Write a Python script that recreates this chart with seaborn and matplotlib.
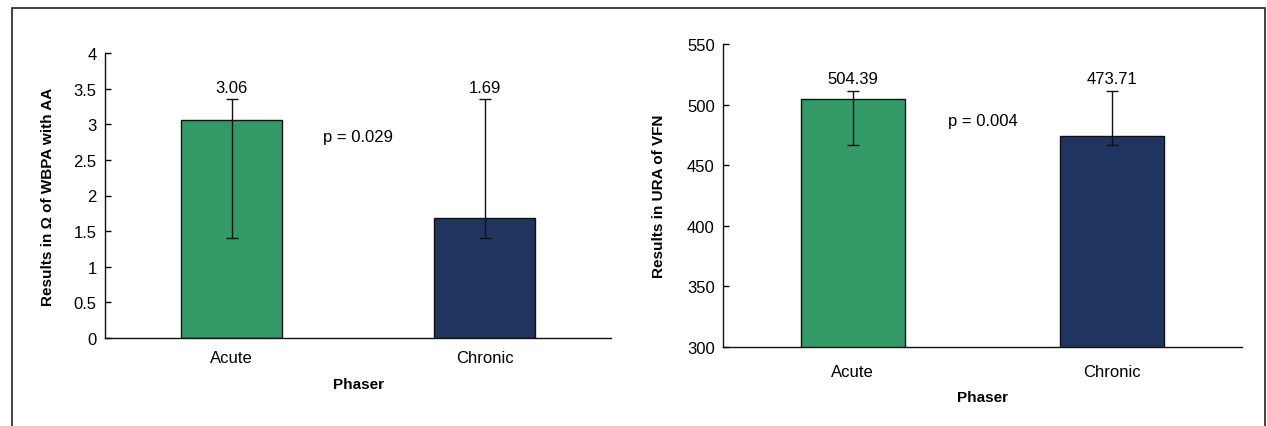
import seaborn as sns
import matplotlib.pyplot as plt
import matplotlib.patches as mpatches
import pandas as pd

phases = ["Acute", "Chronic"]
colors = ["#339966", "#1F3560"]

# left panel: WBPA with AA (ohm)
wbpa_mean = [3.06, 1.69]
wbpa_err_low = [1.41, 1.41]
wbpa_err_high = [3.35, 3.35]
wbpa_p = "p = 0.029"

# right panel: URA of VFN
vfn_mean = [504.39, 473.71]
vfn_err_low = [467, 467]
vfn_err_high = [511.5, 511.5]
vfn_p = "p = 0.004"

sns.set_style("white")
plt.rcParams["font.family"] = ["Liberation Sans", "DejaVu Sans"]
plt.rcParams["text.color"] = "black"
plt.rcParams["xtick.color"] = "black"
plt.rcParams["ytick.color"] = "black"
plt.rcParams["axes.labelcolor"] = "black"

fig = plt.figure(figsize=(12.67, 4.27), dpi=100)
ax1 = fig.add_axes([105 / 1267, 1 - 339 / 427, 506 / 1267, 285 / 427])
ax2 = fig.add_axes([723 / 1267, 1 - 348 / 427, 519 / 1267, 303 / 427])

# outer frame
fig.patches.append(mpatches.Rectangle((11.5 / 1267, -0.1), 1253 / 1267, 1.1 - 9 / 427,
                                      transform=fig.transFigure, fill=False,
                                      edgecolor="#222222", linewidth=1.2))


def panel(ax, means, lo, hi, ptxt, ylim, yticks, ylabel, ppos, lab_off, xpad, ylpad):
    df = pd.DataFrame({"Phase": phases, "Value": means})
    sns.barplot(data=df, x="Phase", y="Value", hue="Phase", palette=colors,
                saturation=1, width=0.4, edgecolor="#111111", linewidth=1,
                legend=False, ax=ax)
    err = [[m - l for m, l in zip(means, lo)], [h - m for m, h in zip(means, hi)]]
    ax.errorbar(range(len(phases)), means, yerr=err, fmt="none", ecolor="#111111",
                elinewidth=1, capsize=4, capthick=1)
    for i, (m, h) in enumerate(zip(means, hi)):
        ax.text(i, h + lab_off, f"{m:.2f}", ha="center", va="bottom", fontsize=12)
    ax.text(ppos[0], ppos[1], ptxt, ha="center", va="center", fontsize=12)
    ax.set_xlim(-0.5, 1.5)
    ax.set_ylim(*ylim)
    ax.set_yticks(yticks)
    ax.set_yticklabels([f"{t:g}" for t in yticks], fontsize=12)
    ax.tick_params(axis="y", direction="in", length=4, width=1, pad=6, left=True)
    ax.tick_params(axis="x", length=0, pad=xpad, labelsize=12)
    sns.despine(ax=ax)
    for s in ["left", "bottom"]:
        ax.spines[s].set_color("#111111")
        ax.spines[s].set_linewidth(1)
    ax.set_xlabel("Phaser", fontsize=11, fontweight="bold", labelpad=8)
    ax.set_ylabel(ylabel, fontsize=11, fontweight="bold", labelpad=ylpad)


panel(ax1, wbpa_mean, wbpa_err_low, wbpa_err_high, wbpa_p, (0, 4),
      [0, 0.5, 1, 1.5, 2, 2.5, 3, 3.5, 4], "Results in Ω of WBPA with AA",
      (0.5, 2.83), 0.06, 9, 13)
panel(ax2, vfn_mean, vfn_err_low, vfn_err_high, vfn_p, (300, 550),
      [300, 350, 400, 450, 500, 550], "Results in URA of VFN",
      (0.5, 486.5), 4, 12, 15)

fig.savefig("out.png", dpi=100)
